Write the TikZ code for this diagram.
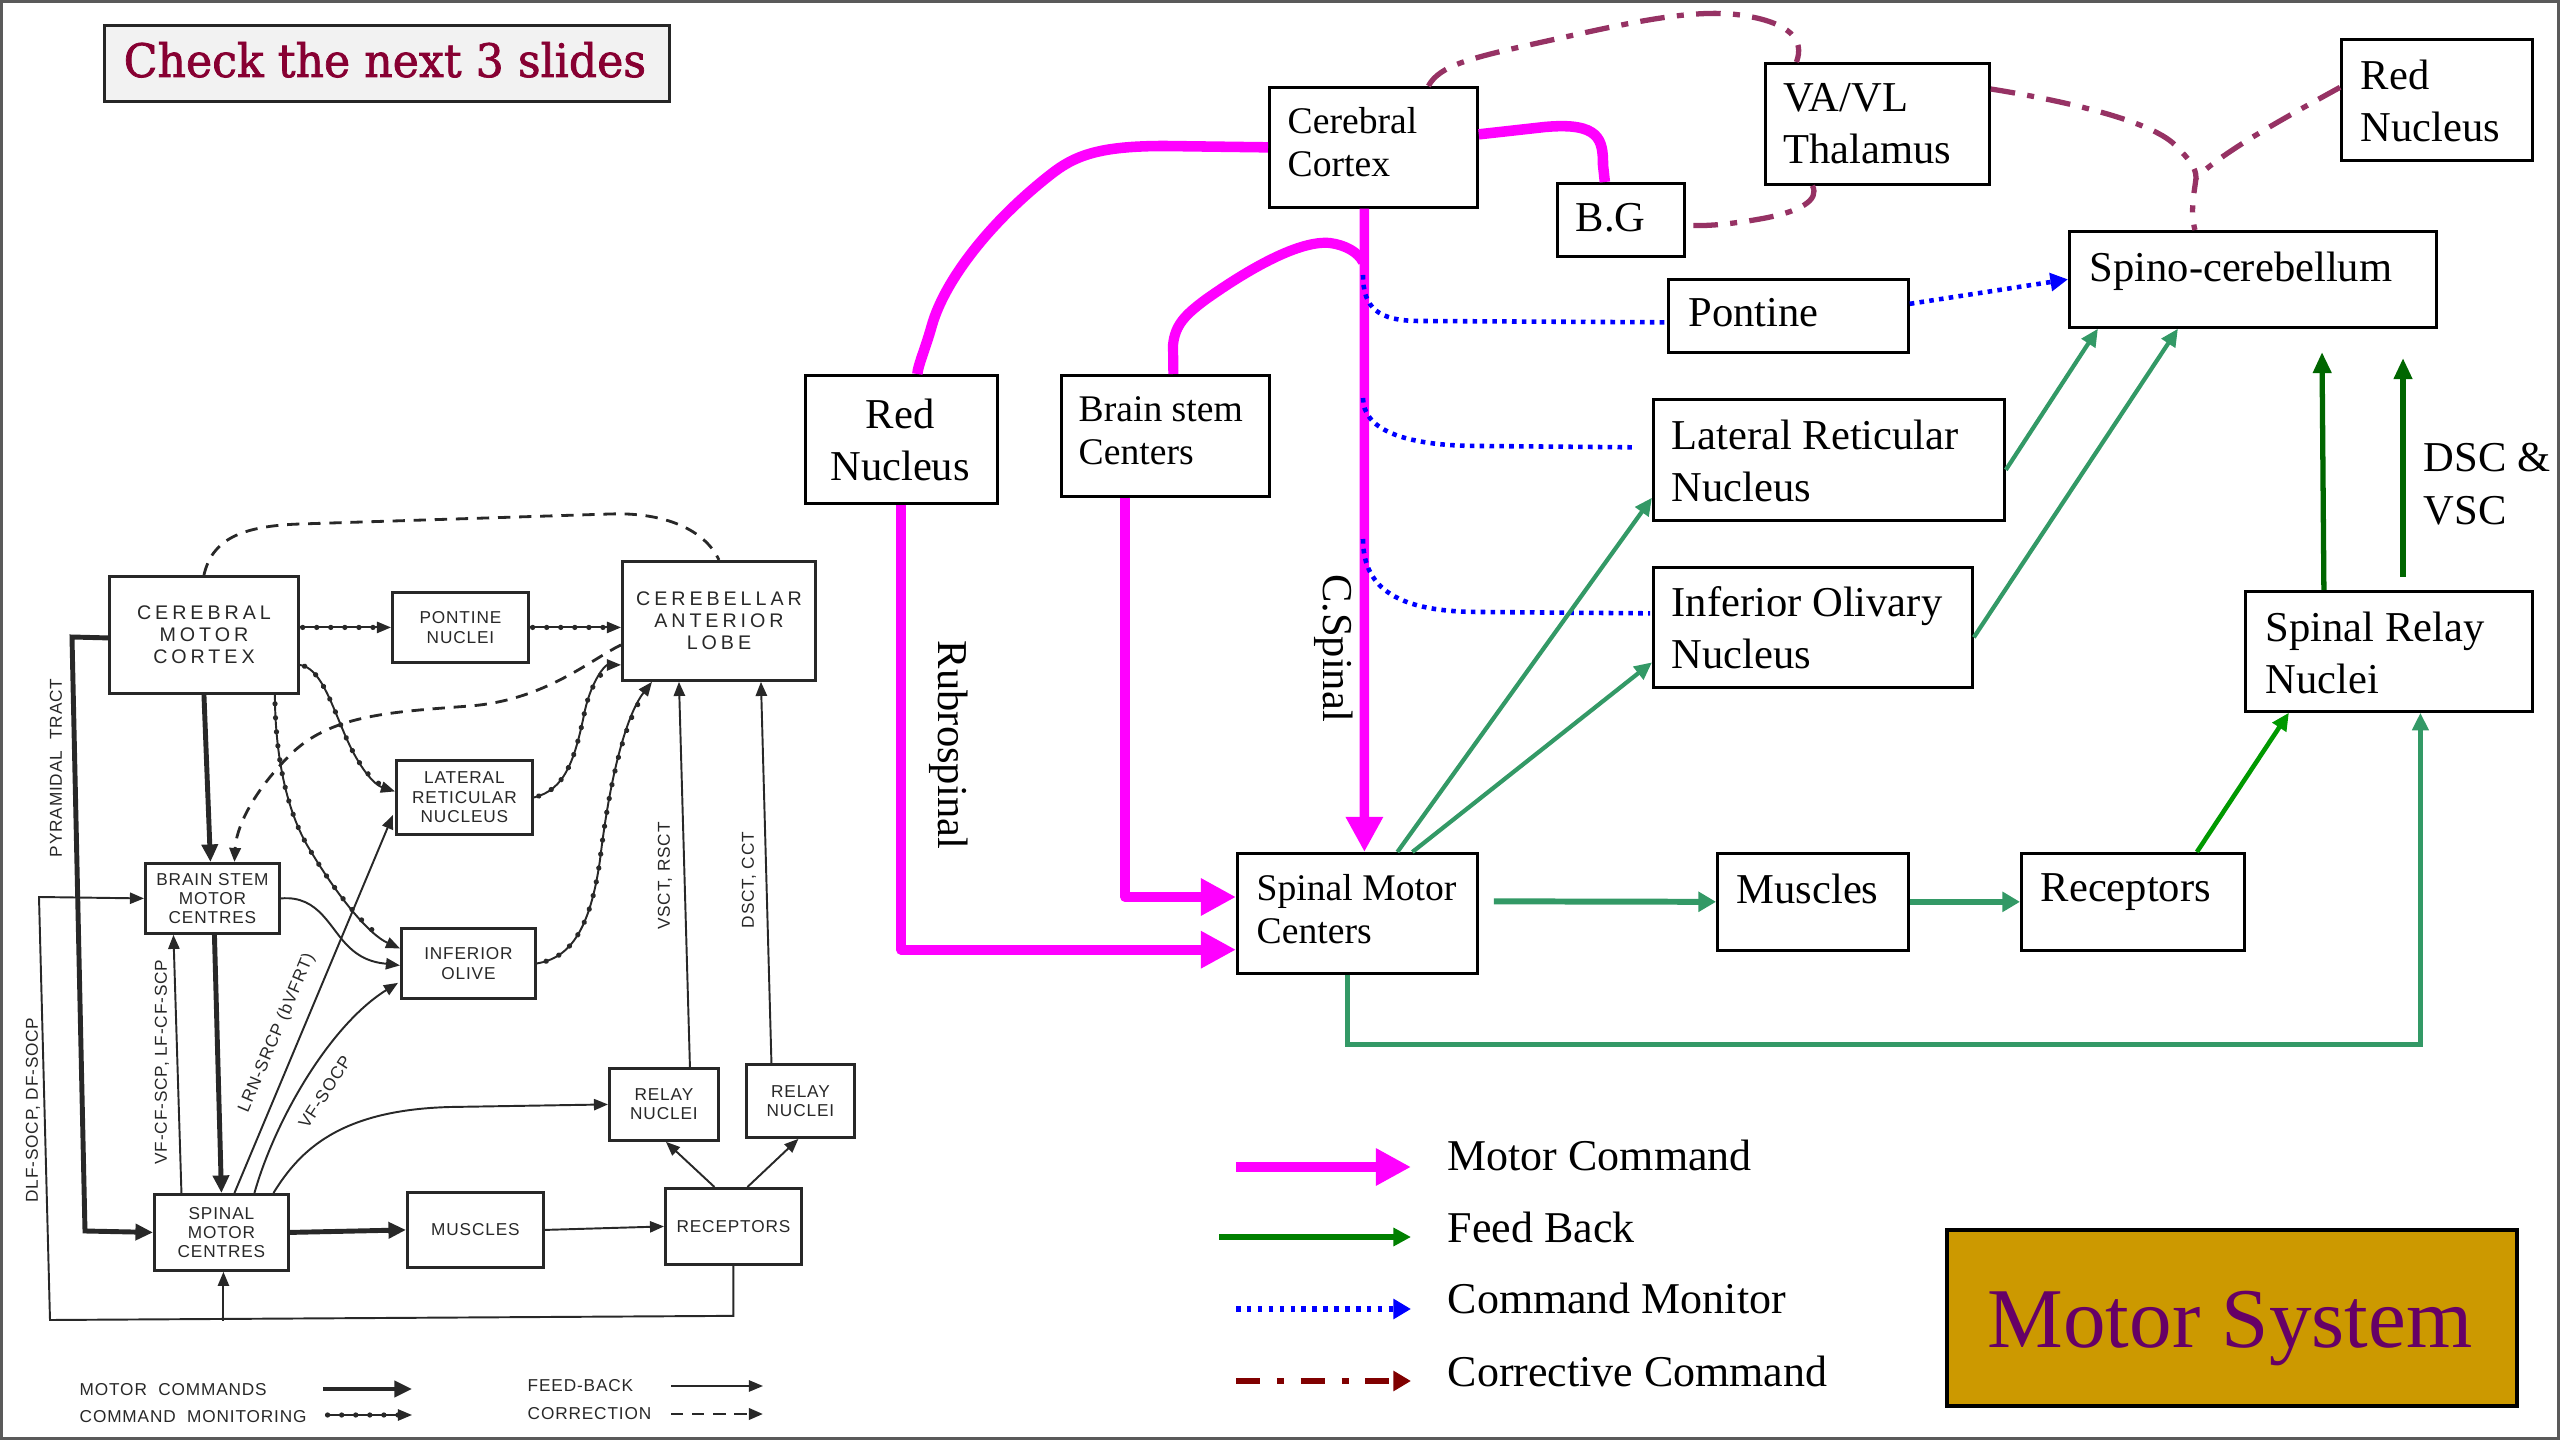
\documentclass[tikz,border=0pt]{standalone}
\usepackage{fontspec}
\usepackage{graphicx}
\setmainfont{Liberation Serif}
\newfontfamily\scanfont[LetterSpace=5]{Liberation Sans}
\newfontfamily\scanwide[LetterSpace=20]{Liberation Sans}
\newfontfamily\slabfont[FakeBold=1.6]{DejaVu Serif}
\usetikzlibrary{arrows.meta,calc,decorations.markings}
\definecolor{mag}{RGB}{255,0,255}
\definecolor{fbgreen}{RGB}{51,153,102}
\definecolor{brgreen}{RGB}{0,153,0}
\definecolor{dkgreen}{RGB}{0,102,0}
\definecolor{lggreen}{RGB}{0,128,0}
\definecolor{corr}{RGB}{150,50,100}
\definecolor{lgcorr}{RGB}{128,0,0}
\definecolor{gold}{RGB}{204,153,0}
\definecolor{purp}{RGB}{102,0,102}
\definecolor{chkred}{RGB}{135,0,50}
\definecolor{chkbg}{RGB}{242,242,242}
\definecolor{scan}{RGB}{40,40,40}
\definecolor{framegray}{RGB}{90,90,90}
\tikzset{
  rbox/.style={draw=black, line width=0.75pt, inner sep=0pt, anchor=north west},
  rtxt/.style={inner sep=0pt, anchor=north west, align=left, font=\fontsize{12.1}{14.8}\selectfont},
  rtxts/.style={inner sep=0pt, anchor=north west, align=left, font=\fontsize{10.7}{12.2}\selectfont},
  ltxt/.style={inner sep=0pt, anchor=north west, font=\fontsize{12.5}{15}\selectfont},
  motor/.style={draw=mag, line width=2.9pt, line join=round},
  motorarrow/.style={motor, -{Triangle[width=10pt,length=10pt]}},
  fb/.style={draw=fbgreen, line width=1.2pt, -{Triangle[width=4.5pt,length=5pt]}},
  fbthick/.style={draw=fbgreen, line width=1.7pt, -{Triangle[width=5.5pt,length=5pt]}},
  dkarrow/.style={draw=dkgreen, line width=1.5pt, -{Triangle[width=5pt,length=6pt]}},
  mon/.style={draw=blue, line width=1.3pt, dash pattern=on 1.3pt off 1.5pt},
  cor/.style={draw=corr, line width=1.5pt, line cap=butt, dash pattern=on 7pt off 3.5pt on 2pt off 3.5pt},
  sbox/.style={draw=scan, line width=0.8pt, inner sep=0pt, anchor=north west, align=center, text=scan},
  stxt/.style={inner sep=0pt, align=center, font=\scanfont\fontsize{4.9}{5.5}\selectfont, text=scan},
  sbig/.style={font=\scanwide\fontsize{5.6}{6.3}\selectfont},
  ssmall/.style={font=\scanfont\fontsize{4.9}{5.5}\selectfont},
  sline/.style={draw=scan, line width=0.55pt},
  sarrow/.style={sline, -{Triangle[width=3.2pt,length=4pt]}},
  sthick/.style={draw=scan, line width=1.4pt, -{Triangle[width=4.5pt,length=5pt]}},
  sdash/.style={draw=scan, line width=0.8pt, dash pattern=on 3.5pt off 2.5pt},
  sdots/.style={sline, postaction={decorate, decoration={markings, mark=between positions 0.03 and 0.93 step 4pt with {\fill[scan] (0,0) circle (0.75pt);}}}},
  sdotarrow/.style={sdots, -{Triangle[width=3.2pt,length=4pt]}},
}
\begin{document}
\begin{tikzpicture}[x=0.01cm,y=-0.01cm]
\useasboundingbox (0,0) rectangle (2560,1440);
\draw[framegray, line width=0.8pt] (1.5,1.5) rectangle (2558.5,1438.5);

% ---------------- title box
\node[draw=black!85, line width=0.8pt, fill=chkbg, minimum width=5.65cm, minimum height=0.76cm, anchor=north west, inner sep=0pt] (chk) at (103,24) {};
\node[inner sep=0pt, anchor=base west, text=chkred] (chkt) at (123,77) {\resizebox{5.22cm}{0.35cm}{\slabfont Check the next 3 slides}};

% ---------------- right diagram boxes
\node[rbox, minimum width=2.08cm, minimum height=1.20cm] (cc) at (1268,86) {};
\node[rbox, minimum width=1.27cm, minimum height=0.73cm] (bg) at (1556,182) {};
\node[rbox, minimum width=2.24cm, minimum height=1.21cm] (va) at (1764,62) {};
\node[rbox, minimum width=1.91cm, minimum height=1.21cm] (rn2) at (2340,38) {};
\node[rbox, minimum width=3.67cm, minimum height=0.96cm] (sc) at (2068,230) {};
\node[rbox, minimum width=2.40cm, minimum height=0.73cm] (pon) at (1667,278) {};
\node[rbox, minimum width=3.51cm, minimum height=1.21cm] (lrn) at (1652,398) {};
\node[rbox, minimum width=2.08cm, minimum height=1.21cm] (bs) at (1060,374) {};
\node[rbox, minimum width=1.92cm, minimum height=1.28cm] (rn) at (804,374) {};
\node[rbox, minimum width=3.19cm, minimum height=1.20cm] (io) at (1652,566) {};
\node[rbox, minimum width=2.87cm, minimum height=1.20cm] (srn) at (2244,590) {};
\node[rbox, minimum width=2.40cm, minimum height=1.20cm] (smc) at (1236,852) {};
\node[rbox, minimum width=1.91cm, minimum height=0.97cm] (mus) at (1716,852) {};
\node[rbox, minimum width=2.23cm, minimum height=0.97cm] (rec) at (2020,852) {};

% texts
\node[rtxts] (cct) at (1287,107) {Cerebral\\Cortex};
\node[rtxt] (bgt) at (1575,203) {B.G};
\node[rtxt] (vat) at (1783,83) {VA/VL\\Thalamus};
\node[rtxt] (rn2t) at (2360,59) {Red\\Nucleus};
\node[rtxt] (sct) at (2089,251) {Spino-cerebellum};
\node[rtxt] (pont) at (1688,298) {Pontine};
\node[rtxt] (lrnt) at (1671,419) {Lateral Reticular\\Nucleus};
\node[rtxts] (bst) at (1078,396) {Brain stem\\Centers};
\node[rtxt, anchor=north, align=center] (rnt) at (900,398) {Red\\Nucleus};
\node[rtxt] (iot) at (1671,586) {Inferior Olivary\\Nucleus};
\node[rtxt] (srnt) at (2265,611) {Spinal Relay\\Nuclei};
\node[rtxts] (smct) at (1256,874) {Spinal Motor\\Centers};
\node[rtxt] (must) at (1736,873) {Muscles};
\node[rtxt] (rect) at (2040,873) {Receptors};
\node[rtxt] (dsc) at (2423,443) {DSC \&\\VSC};
\node[rtxt, anchor=center, rotate=-90] (rubro) at (949,745) {Rubrospinal};
\node[rtxt, anchor=center, rotate=-90] (cspin) at (1334,648) {C.Spinal};

% ---------------- magenta motor commands
\draw[motor, line width=3pt] (cc.west) -- (1165,146) .. controls (1100,146) and (1075,155) .. (1050,175) .. controls (990,222) and (945,280) .. (932,325) .. controls (925,350) and (918,365) .. ($(rn.north)+(16,0)$);
\draw[motor, line width=3pt] ($(cc.east)+(0,-13)$) -- (1545,127) .. controls (1600,122) and (1603,140) .. (1603,165) -- ($(bg.north)+(-16,0)$);
\draw[motorarrow, line width=2.7pt] ($(cc.south)+(-9,0)$) -- ($(smc.north)+(7,0)$);
\coordinate (cs0) at (1363,262);
\draw[motor] ($(bs.north)+(8,0)$) -- (1173,345) .. controls (1175,325) and (1185,315) .. (1205,300) .. controls (1250,268) and (1300,240) .. (1330,243) .. controls (1345,245) and (1358,252) .. (cs0);
\coordinate (rnin) at ($(smc.south west)+(0,-25)$);
\coordinate (bsin) at ($(smc.north west)+(0,45)$);
\draw[motorarrow] (rn.south) -- (rn.south |- rnin) -- (rnin);
\draw[motorarrow] ($(bs.south)+(-40,0)$) |- (bsin);

% ---------------- blue command monitor
\coordinate (cs1) at (1363,275);
\coordinate (cs2) at (1363,398);
\coordinate (cs3) at (1363,539);
\draw[mon] (cs1) .. controls (1363,308) and (1378,321) .. (1420,321) -- ($(pon.west)+(0,6.5)$);
\draw[mon] (cs2) .. controls (1363,428) and (1400,446) .. (1480,446) -- ($(lrn.west)+(-16,-12.5)$);
\draw[mon] (cs3) .. controls (1363,590) and (1400,612) .. (1480,612) -- ($(io.west)+(-2,-14)$);
\draw[mon, -{Triangle[width=5pt,length=5pt]}] ($(pon.east)+(0,-12)$) -- (sc.west);

% ---------------- green feedback
\draw[fbthick] ($(smc.east)+(15,-12)$) -- (mus.west);
\draw[fbthick] (mus.east) -- (rec.west);
\draw[fb, draw=brgreen, line width=1.3pt] ($(rec.north)+(64,0)$) -- ($(srn.south)+(-100,0)$);
\draw[fb] ($(smc.north)+(40,0)$) -- ($(lrn.south west)+(0,-24)$);
\draw[fb] ($(smc.north)+(55,0)$) -- ($(io.west)+(0,35)$);
\draw[fb] ($(lrn.east)+(0,10)$) -- ($(sc.south)+(-155,0)$);
\draw[fb] ($(io.east)+(0,10)$) -- ($(sc.south)+(-75,0)$);
\draw[fb, line width=1.4pt] ($(smc.south)+(-10,0)$) -- ++(0,70) -| ($(srn.south)+(31.5,0)$);
\coordinate (dg1b) at (2322,352);
\coordinate (dg2a) at (2403,577);
\coordinate (dg2b) at (2403,358);
\draw[dkarrow] ($(srn.north)+(-65,0)$) -- (dg1b);
\draw[dkarrow] (dg2a) -- (dg2b);

% ---------------- corrective command
\draw[cor] ($(cc.north)+(55,0)$) .. controls (1440,65) and (1470,58) .. (1547,41) .. controls (1620,25) and (1690,8) .. (1740,15) .. controls (1790,22) and (1805,40) .. ($(va.north)+(-81,0)$);
\draw[cor] ($(va.south)+(-65,0)$) .. controls (1820,200) and (1800,212) .. (1760,219) .. controls (1720,226) and (1700,226) .. ($(bg.east)+(0,5.5)$);
\coordinate (jn) at (2196,178);
\draw[cor] ($(va.north east)+(0,27)$) .. controls (2060,100) and (2150,120) .. (2175,145) .. controls (2190,160) and (2196,168) .. (jn) .. controls (2194,195) and (2190,210) .. ($(sc.north)+(-58,0)$);
\draw[cor] ($(rn2.west)+(0,-12.5)$) .. controls (2290,115) and (2225,150) .. (jn);

% ---------------- legend
\coordinate (l1a) at (1236,1167); \coordinate (l1b) at (1411,1167);
\coordinate (l2a) at (1219,1237); \coordinate (l2b) at (1411,1237);
\coordinate (l3a) at (1236,1309); \coordinate (l3b) at (1411,1309);
\coordinate (l4a) at (1236,1381); \coordinate (l4b) at (1411,1381);
\draw[draw=mag, line width=3.1pt, -{Triangle[width=10pt,length=10pt]}] (l1a) -- (l1b);
\draw[draw=lggreen, line width=1.6pt, -{Triangle[width=5pt,length=5pt]}] (l2a) -- (l2b);
\draw[draw=blue, line width=1.7pt, dash pattern=on 1.3pt off 1.8pt, -{Triangle[width=5.5pt,length=5pt]}] (l3a) -- (l3b);
\draw[draw=lgcorr, line width=1.7pt, dash pattern=on 6.8pt off 4.8pt on 2pt off 4.8pt, -{Triangle[width=5.5pt,length=5pt]}] (l4a) -- (l4b);
\node[ltxt] (lt1) at (1447,1139) {Motor Command};
\node[ltxt] (lt2) at (1447,1211) {Feed Back};
\node[ltxt] (lt3) at (1447,1282) {Command Monitor};
\node[ltxt] (lt4) at (1447,1355) {Corrective Command};

\node[draw=black, line width=1pt, fill=gold, minimum width=5.70cm, minimum height=1.76cm, anchor=north west, inner sep=0pt] (ms) at (1945,1228) {};
\node[text=purp, font=\fontsize{24.2}{28}\selectfont, anchor=base, inner sep=0pt] (mst) at (2230,1347) {Motor System};

% ================= scanned diagram (left)
\node[sbox, sbig, minimum width=1.89cm, minimum height=1.17cm] (cmc) at (108,575) {CEREBRAL\\MOTOR\\CORTEX};
\node[sbox, ssmall, minimum width=1.36cm, minimum height=0.70cm] (pn) at (391,591) {PONTINE\\NUCLEI};
\node[sbox, sbig, minimum width=1.93cm, minimum height=1.19cm] (cal) at (621,560) {CEREBELLAR\\ANTERIOR\\LOBE};
\node[sbox, ssmall, minimum width=1.36cm, minimum height=0.74cm] (lrns) at (395,759) {LATERAL\\RETICULAR\\NUCLEUS};
\node[sbox, ssmall, minimum width=1.34cm, minimum height=0.70cm] (bsm) at (144,862) {BRAIN STEM\\MOTOR\\CENTRES};
\node[sbox, ssmall, minimum width=1.34cm, minimum height=0.70cm] (ios) at (400,927) {INFERIOR\\OLIVE};
\node[sbox, ssmall, minimum width=1.09cm, minimum height=0.72cm] (rl1) at (608,1067) {RELAY\\NUCLEI};
\node[sbox, ssmall, minimum width=1.08cm, minimum height=0.73cm] (rl2) at (745,1063) {RELAY\\NUCLEI};
\node[sbox, ssmall, minimum width=1.34cm, minimum height=0.76cm] (smc2) at (153,1193) {SPINAL\\MOTOR\\CENTRES};
\node[sbox, ssmall, minimum width=1.36cm, minimum height=0.75cm] (mus2) at (406,1191) {MUSCLES};
\node[sbox, ssmall, minimum width=1.36cm, minimum height=0.76cm] (rec2) at (664,1187) {RECEPTORS};

% scan connectors
\draw[sdash] (cmc.north) .. controls (212,540) and (240,526) .. (300,524) -- (610,514) .. controls (665,512) and (705,530) .. (cal.north);
\draw[sdotarrow] (cmc.east |- pn.west) -- (pn.west);
\draw[sdotarrow] (pn.east) -- (pn.east -| cal.west);
\draw[sdash, -{Triangle[width=3.2pt,length=4pt]}] ($(cal.west)+(0,24)$) .. controls (590,660) and (545,700) .. (470,706) .. controls (390,712) and (330,715) .. (290,755) .. controls (250,795) and (236,830) .. ($(bsm.north)+(22,0)$);
\draw[sthick] (cmc.south) -- ($(bsm.north)+(-2,0)$);
\draw[sdotarrow] ($(cmc.south east)+(-25,0)$) .. controls (275,750) and (285,810) .. (310,850) .. controls (340,900) and (370,935) .. ($(ios.west)+(0,-15)$);
\draw[sdotarrow] ($(cmc.east)+(0,30)$) .. controls (320,668) and (330,700) .. (345,735) .. controls (360,770) and (375,785) .. ($(lrns.west)+(0,-6)$);
\draw[sdotarrow] (lrns.east) .. controls (565,790) and (575,760) .. (585,710) .. controls (592,680) and (605,665) .. ($(cal.south west)+(0,-17)$);
\draw[sdotarrow] (ios.east) .. controls (570,958) and (590,930) .. (600,860) .. controls (612,760) and (630,710) .. ($(cal.south)+(-67,0)$);
\draw[sarrow] (bsm.east) .. controls (320,895) and (330,930) .. (350,948) .. controls (365,962) and (380,963) .. ($(ios.west)+(0,2)$);
\draw[sarrow] ($(smc2.north)+(-40,0)$) -- ($(bsm.south)+(-39,0)$);
\draw[sthick] ($(bsm.south)+(2,0)$) -- (smc2.north);
\draw[sarrow] ($(smc2.north)+(13,0)$) -- ($(lrns.south west)+(-2,-21)$);
\draw[sarrow] ($(smc2.north)+(33,0)$) .. controls (275,1120) and (330,1025) .. ($(ios.south west)+(-2,-17)$);
\draw[sarrow] ($(smc2.north)+(52,0)$) .. controls (300,1150) and (340,1110) .. (450,1107) -- (rl1.west);
\draw[sthick] ($(cmc.west)+(0,3)$) -- (72,637) -- (85,1231) -- (smc2.west);
\draw[sarrow] (rec2.south) -- ++(0,50) -- (50,1320) -- (39,897) -- (bsm.west);
\draw[sarrow] ($(smc2.south)+(2,49)$) -- ($(smc2.south)+(2,0)$);
\draw[sthick] (smc2.east) -- (mus2.west);
\draw[sarrow] (mus2.east) -- (rec2.west);
\draw[sarrow] ($(rec2.north)+(-19,0)$) -- ($(rl1.south)+(2,0)$);
\draw[sarrow] ($(rec2.north)+(14,0)$) -- ($(rl2.south)+(-2,0)$);
\draw[sarrow] ($(rl1.north)+(26,0)$) -- ($(cal.south)+(-40,0)$);
\draw[sarrow] ($(rl2.north)+(-29,0)$) -- ($(cal.south)+(42,0)$);

% scan labels
\node[stxt, rotate=90] (lpyr) at (56,768) {PYRAMIDAL\ \ TRACT};
\node[stxt, rotate=90] (lvf) at (162,1062) {VF-CF-SCP, LF-CF-SCP};
\node[stxt, rotate=90] (ldlf) at (33,1110) {DLF-SOCP, DF-SOCP};
\node[stxt, rotate=67] (llrn) at (277,1033) {LRN-SRCP (bVFRT)};
\node[stxt, rotate=57] (lvfs) at (325,1092) {VF-SOCP};
\node[stxt, rotate=90] (lvsct) at (665,876) {VSCT, RSCT};
\node[stxt, rotate=90] (ldsct) at (749,880) {DSCT, CCT};

% scan legend
\node[stxt, anchor=west] (sl1) at (79,1390) {MOTOR\ \ COMMANDS};
\node[stxt, anchor=west] (sl2) at (79,1417) {COMMAND\ \ MONITORING};
\node[stxt, anchor=west] (sl3) at (527,1386) {FEED-BACK};
\node[stxt, anchor=west] (sl4) at (527,1414) {CORRECTION};
\coordinate (s1a) at (323,1389); \coordinate (s1b) at (412,1389);
\coordinate (s2a) at (325,1415); \coordinate (s2b) at (412,1415);
\coordinate (s3a) at (671,1386); \coordinate (s3b) at (763,1386);
\coordinate (s4a) at (671,1414); \coordinate (s4b) at (763,1414);
\draw[sthick] (s1a) -- (s1b);
\draw[sdotarrow] (s2a) -- (s2b);
\draw[sarrow] (s3a) -- (s3b);
\draw[sdash, -{Triangle[width=3.2pt,length=4pt]}] (s4a) -- (s4b);
\end{tikzpicture}
\end{document}
